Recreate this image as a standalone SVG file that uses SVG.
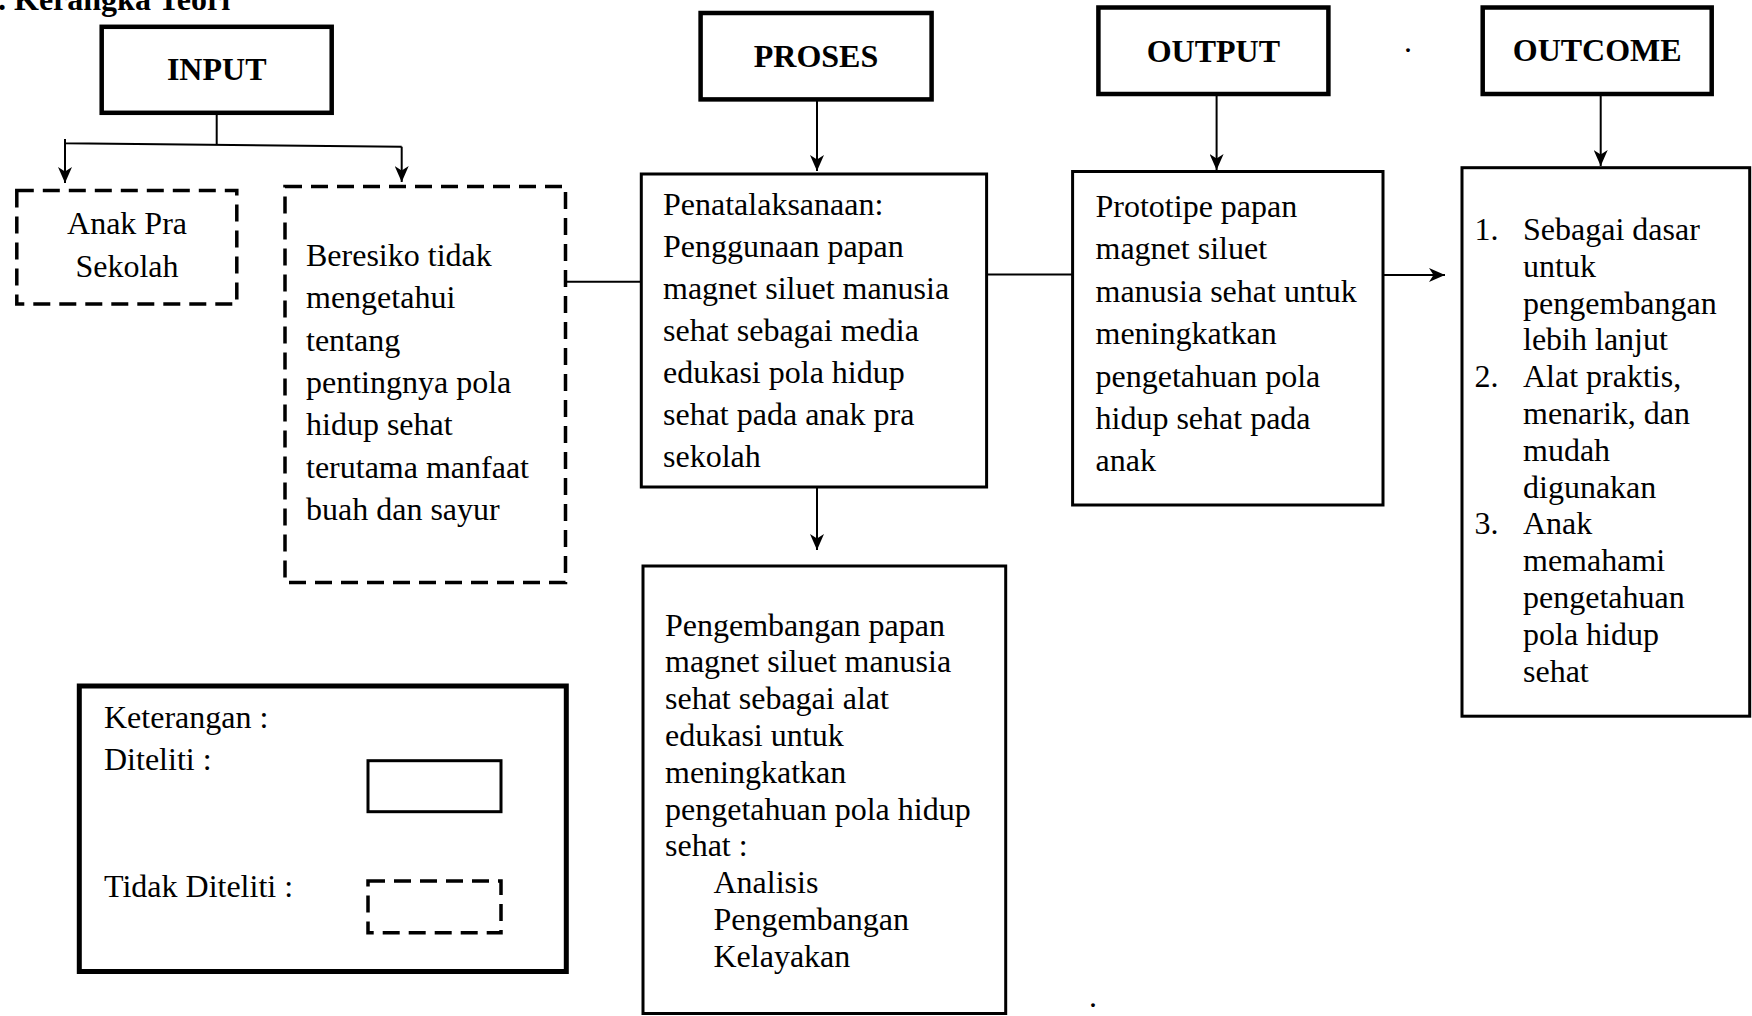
<svg xmlns="http://www.w3.org/2000/svg" width="1752" height="1016" viewBox="0 0 1752 1016">
<defs>
<style>
text{font-family:"Liberation Serif","Times New Roman",serif;font-size:32px;fill:#000}
.h{font-weight:bold;text-anchor:middle}
.head{fill:#fff;stroke:#000;stroke-width:4.5}
.box{fill:#fff;stroke:#000;stroke-width:3}
.dash{fill:#fff;stroke:#000;stroke-width:3.5;stroke-dasharray:17 9}
.con{fill:none;stroke:#000;stroke-width:2}
</style>
<marker id="arr" viewBox="0 0 16 14" refX="16" refY="7" markerWidth="16" markerHeight="14" markerUnits="userSpaceOnUse" orient="auto">
<path d="M0,0 L16,7 L0,14 L4.5,7 z" fill="#000"/>
</marker>
</defs>
<rect width="1752" height="1016" fill="#fff"/>
<text x="-2" y="10" font-weight="bold">. Kerangka Teori</text>

<g id="connectors">
<line class="con" x1="216.7" y1="113" x2="216.7" y2="145"/>
<polyline class="con" points="65,139 65,143.3 401.7,146.7"/>
<line class="con" x1="65" y1="143" x2="65" y2="183" marker-end="url(#arr)"/>
<line class="con" x1="401.7" y1="146.7" x2="401.7" y2="182" marker-end="url(#arr)"/>
<line class="con" x1="565" y1="281.7" x2="641.3" y2="281.7"/>
<line class="con" x1="817" y1="99.4" x2="817" y2="171" marker-end="url(#arr)"/>
<line class="con" x1="817" y1="487" x2="817" y2="550" marker-end="url(#arr)"/>
<line class="con" x1="986.6" y1="274.5" x2="1072.6" y2="274.5"/>
<line class="con" x1="1216.6" y1="94" x2="1216.6" y2="170" marker-end="url(#arr)"/>
<line class="con" x1="1383" y1="275" x2="1445" y2="275" marker-end="url(#arr)"/>
<line class="con" x1="1600.7" y1="94" x2="1600.7" y2="166" marker-end="url(#arr)"/>
</g>

<g id="input">
<rect class="head" x="101.7" y="26.8" width="230" height="86"/>
<text class="h" x="216.7" y="79.5">INPUT</text>
</g>
<g id="anak-pra-sekolah">
<rect class="dash" x="16.8" y="190.5" width="220" height="113.5"/>
<text x="127" y="234" text-anchor="middle">Anak Pra</text>
<text x="127" y="277" text-anchor="middle">Sekolah</text>
</g>
<g id="beresiko">
<rect class="dash" x="285" y="186.6" width="280.5" height="396"/>
<text x="306" y="266">Beresiko tidak<tspan x="306" dy="42.3">mengetahui</tspan><tspan x="306" dy="42.3">tentang</tspan><tspan x="306" dy="42.3">pentingnya pola</tspan><tspan x="306" dy="42.3">hidup sehat</tspan><tspan x="306" dy="42.3">terutama manfaat</tspan><tspan x="306" dy="42.3">buah dan sayur</tspan></text>
</g>

<g id="proses">
<rect class="head" x="700.6" y="13" width="231" height="86.4"/>
<text class="h" x="816" y="66.7">PROSES</text>
</g>
<g id="penatalaksanaan">
<rect class="box" x="641.3" y="174" width="345.3" height="313"/>
<text x="663" y="215">Penatalaksanaan:<tspan x="663" dy="42">Penggunaan papan</tspan><tspan x="663" dy="42">magnet siluet manusia</tspan><tspan x="663" dy="42">sehat sebagai media</tspan><tspan x="663" dy="42">edukasi pola hidup</tspan><tspan x="663" dy="42">sehat pada anak pra</tspan><tspan x="663" dy="42">sekolah</tspan></text>
</g>
<g id="pengembangan">
<rect class="box" x="643" y="566" width="362.7" height="447.5"/>
<text x="665" y="635.5">Pengembangan papan<tspan x="665" dy="36.8">magnet siluet manusia</tspan><tspan x="665" dy="36.8">sehat sebagai alat</tspan><tspan x="665" dy="36.8">edukasi untuk</tspan><tspan x="665" dy="36.8">meningkatkan</tspan><tspan x="665" dy="36.8">pengetahuan pola hidup</tspan><tspan x="665" dy="36.8">sehat :</tspan><tspan x="713.5" dy="36.8">Analisis</tspan><tspan x="713.5" dy="36.8">Pengembangan</tspan><tspan x="713.5" dy="36.8">Kelayakan</tspan></text>
</g>

<g id="output">
<rect class="head" x="1098.4" y="7.5" width="230" height="86.5"/>
<text class="h" x="1213.4" y="61.5">OUTPUT</text>
</g>
<g id="prototipe">
<rect class="box" x="1072.6" y="171.5" width="310.4" height="333.5"/>
<text x="1095.5" y="217">Prototipe papan<tspan x="1095.5" dy="42.4">magnet siluet</tspan><tspan x="1095.5" dy="42.4">manusia sehat untuk</tspan><tspan x="1095.5" dy="42.4">meningkatkan</tspan><tspan x="1095.5" dy="42.4">pengetahuan pola</tspan><tspan x="1095.5" dy="42.4">hidup sehat pada</tspan><tspan x="1095.5" dy="42.4">anak</tspan></text>
</g>

<g id="outcome">
<rect class="head" x="1482.7" y="7.5" width="229" height="86.5"/>
<text class="h" x="1597.2" y="60.7">OUTCOME</text>
</g>
<g id="outcome-list">
<rect class="box" x="1462" y="167.7" width="287.7" height="548.5"/>
<text x="1474.5" y="240">1.</text>
<text x="1474.5" y="387.2">2.</text>
<text x="1474.5" y="534.4">3.</text>
<text x="1523" y="240">Sebagai dasar<tspan x="1523" dy="36.8">untuk</tspan><tspan x="1523" dy="36.8">pengembangan</tspan><tspan x="1523" dy="36.8">lebih lanjut</tspan><tspan x="1523" dy="36.8">Alat praktis,</tspan><tspan x="1523" dy="36.8">menarik, dan</tspan><tspan x="1523" dy="36.8">mudah</tspan><tspan x="1523" dy="36.8">digunakan</tspan><tspan x="1523" dy="36.8">Anak</tspan><tspan x="1523" dy="36.8">memahami</tspan><tspan x="1523" dy="36.8">pengetahuan</tspan><tspan x="1523" dy="36.8">pola hidup</tspan><tspan x="1523" dy="36.8">sehat</tspan></text>
</g>

<g id="legend">
<rect x="79.3" y="686" width="487" height="285.5" fill="#fff" stroke="#000" stroke-width="5"/>
<text x="104" y="728">Keterangan :</text>
<text x="104" y="770">Diteliti :</text>
<text x="104" y="897">Tidak Diteliti :</text>
<rect class="box" x="368" y="760.7" width="133" height="51"/>
<rect class="dash" x="368" y="881" width="133" height="51.7"/>
</g>

<text x="1404" y="52" font-size="16">.</text>
<text x="1089" y="1007" font-size="16">.</text>
</svg>
